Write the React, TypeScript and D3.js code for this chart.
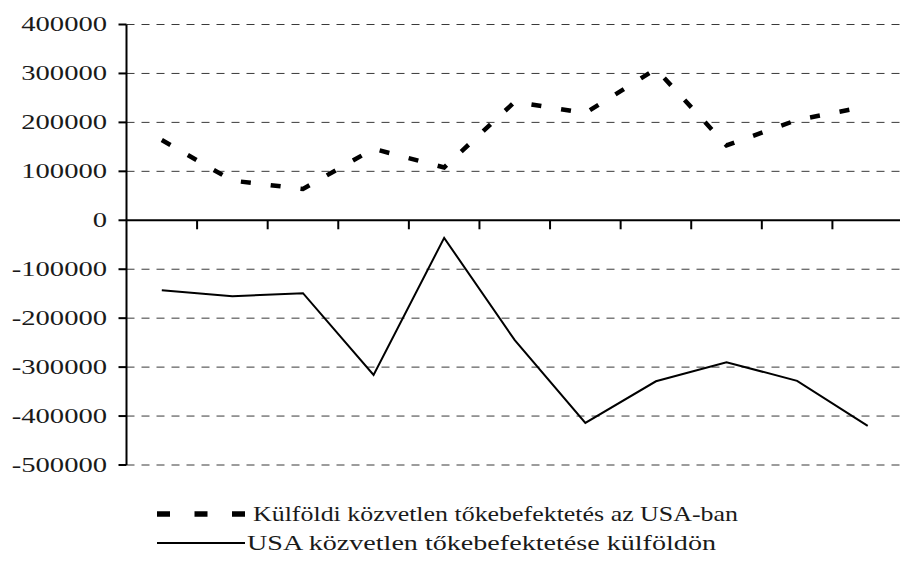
import * as d3 from 'd3';

// FDI flows, USA
const periods = ['P1', 'P2', 'P3', 'P4', 'P5', 'P6', 'P7', 'P8', 'P9', 'P10', 'P11'];
const inflow = [164000, 81000, 64000, 146000, 108000, 242000, 219000, 309000, 153000, 205000, 233000];
const outflow = [-143000, -155000, -149000, -316000, -36000, -245000, -414000, -329000, -290000, -328000, -420000];
const yTicks = [400000, 300000, 200000, 100000, 0, -100000, -200000, -300000, -400000, -500000];
const seriesNames = ['Külföldi közvetlen tőkebefektetés az USA-ban', 'USA közvetlen tőkebefektetése külföldön'];

const W = 900;
const H = 576;
const left = 126.5;
const right = 903;
const top = 24.5;
const bottom = 465;
const font = '"Liberation Serif", "Times New Roman", serif';

export default function App() {
  const x = d3.scaleBand<string>().domain(periods).range([left, right]);
  const y = d3.scaleLinear().domain([-500000, 400000]).range([bottom, top]);
  const cx = (p: string) => (x(p) ?? 0) + x.bandwidth() / 2;

  const line = d3
    .line<number>()
    .x((_, i) => cx(periods[i]))
    .y((d) => y(d));

  // boundaries between categories for the x ticks
  const xTicks = periods.slice(1).map((p) => x(p) ?? 0);

  return (
    <svg width={W} height={H} style={{ position: 'absolute', left: 0, top: 0, background: '#fff' }}>
      {/* gridlines */}
      <g stroke="#3a3a3a" strokeWidth={1} strokeDasharray="8,7">
        {yTicks
          .filter((t) => t !== 0)
          .map((t) => (
            <line key={t} x1={left} x2={W} y1={y(t)} y2={y(t)} />
          ))}
      </g>

      {/* y axis */}
      <g stroke="#000" strokeWidth={2}>
        <line x1={left} x2={left} y1={top} y2={bottom} />
        {yTicks.map((t) => (
          <line key={t} x1={left - 8} x2={left} y1={y(t)} y2={y(t)} />
        ))}
      </g>
      <g fontFamily={font} fontSize={20} fill="#1a1a1a" textAnchor="end">
        {yTicks.map((t) => (
          <text key={t} transform={`translate(107,${y(t) + 6.5}) scale(1.43,1)`}>
            {t}
          </text>
        ))}
      </g>

      {/* x axis at zero */}
      <g stroke="#000" strokeWidth={2}>
        <line x1={left} x2={right} y1={y(0)} y2={y(0)} />
        {xTicks.map((t, i) => (
          <line key={i} x1={t} x2={t} y1={y(0)} y2={y(0) + 9} />
        ))}
      </g>

      {/* series */}
      <path d={line(inflow) ?? ''} fill="none" stroke="#000" strokeWidth={4.5} strokeDasharray="10,20" />
      <path d={line(outflow) ?? ''} fill="none" stroke="#000" strokeWidth={2} />

      {/* legend */}
      <g fontFamily={font} fontSize={22} fill="#1a1a1a">
        <line x1={157} x2={245} y1={514} y2={514} stroke="#000" strokeWidth={5.5} strokeDasharray="13,24.5" />
        <text x={253} y={521} textLength={485} lengthAdjust="spacingAndGlyphs">
          {seriesNames[0]}
        </text>
        <line x1={157} x2={245} y1={543} y2={543} stroke="#000" strokeWidth={2} />
        <text x={247} y={550} textLength={469} lengthAdjust="spacingAndGlyphs">
          {seriesNames[1]}
        </text>
      </g>
    </svg>
  );
}
